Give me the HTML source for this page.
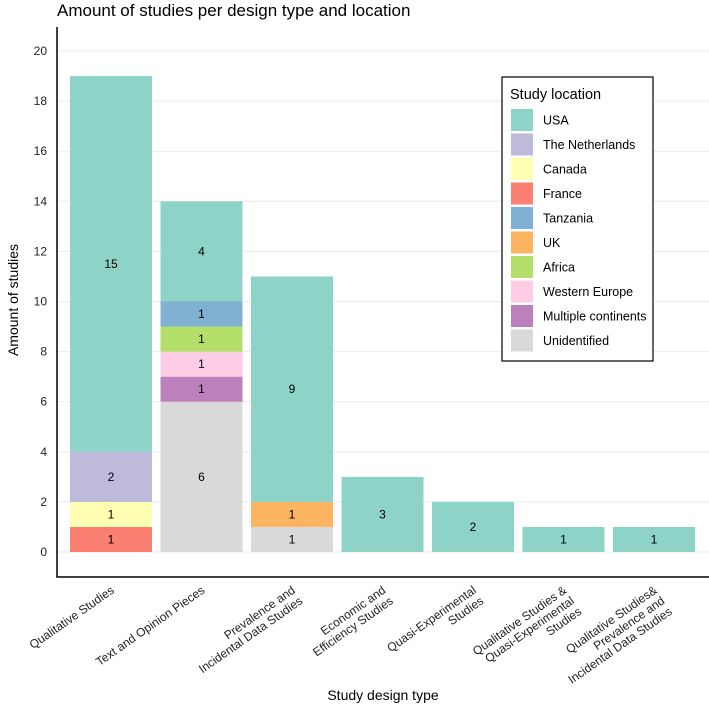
<!DOCTYPE html>
<html><head><meta charset="utf-8"><style>
body{margin:0;background:#fff;font-family:"Liberation Sans",Arial,sans-serif}
svg text{font-family:"Liberation Sans",Arial,sans-serif}
</style></head><body>
<svg id="c" width="709" height="709">
<text x="57" y="16" font-size="17" fill="#000">Amount of studies per design type and location</text>
<g id="grid"></g><g id="bars"></g><g id="axes"></g><g id="legend"></g>
<text x="383" y="700" font-size="14" text-anchor="middle">Study design type</text>
<text transform="translate(18,300) rotate(-90)" font-size="14" text-anchor="middle">Amount of studies</text>
</svg>
<script>
const categories=[["Qualitative Studies"],["Text and Opinion Pieces"],["Prevalence and","Incidental Data Studies"],["Economic and","Efficiency Studies"],["Quasi-Experimental","Studies"],["Qualitative Studies &","Quasi-Experimental","Studies"],["Qualitative Studies&","Prevalence and","Incidental Data Studies"]];
const locations=["USA","The Netherlands","Canada","France","Tanzania","UK","Africa","Western Europe","Multiple continents","Unidentified"];
const colors=["#8DD3C7","#BEBADA","#FFFFB3","#FB8072","#80B1D3","#FDB462","#B3DE69","#FCCDE5","#BC80BD","#D9D9D9"];
const USA=[15,4,9,3,2,1,1];
const Netherlands=[2,0,0,0,0,0,0];
const Canada=[1,0,0,0,0,0,0];
const France=[1,0,0,0,0,0,0];
const Tanzania=[0,1,0,0,0,0,0];
const UK=[0,0,1,0,0,0,0];
const Africa=[0,1,0,0,0,0,0];
const WesternEurope=[0,1,0,0,0,0,0];
const Multiple=[0,1,0,0,0,0,0];
const Unidentified=[0,6,1,0,0,0,0];
const yTicks=[0,2,4,6,8,10,12,14,16,18,20];
const series=[USA,Netherlands,Canada,France,Tanzania,UK,Africa,WesternEurope,Multiple,Unidentified];
const NS="http://www.w3.org/2000/svg";
function mk(t,a,p){const e=document.createElementNS(NS,t);for(const k in a)e.setAttribute(k,a[k]);p.appendChild(e);return e;}
const y=v=>552-v*25.05;
const x0=70,step=90.5,bw=82;
const xc=i=>x0+bw/2+i*step;
const grid=document.getElementById('grid'),bars=document.getElementById('bars'),axes=document.getElementById('axes'),leg=document.getElementById('legend');
yTicks.forEach(t=>{
 const l=mk('line',{x1:57,x2:709,y1:y(t),y2:y(t),stroke:'#ebebeb','stroke-width':1},grid);
 
 
 const tx=mk('text',{x:47,y:y(t)+4,'font-size':12,'text-anchor':'end',fill:'#222'},axes);tx.textContent=t;
 
 
});
categories.forEach((c,i)=>{
 let base=0;
 for(let s=series.length-1;s>=0;s--){
  const v=series[s][i];if(!v)continue;
  const r=mk('rect',{x:xc(i)-bw/2,y:y(base+v),width:bw,height:y(base)-y(base+v),fill:colors[s]},bars);
  
  
  const t=mk('text',{x:xc(i),y:(y(base)+y(base+v))/2+4,'font-size':12,'text-anchor':'middle'},bars);t.textContent=v;
  
  
  base+=v;
 }
 const g=mk('text',{transform:`translate(${xc(i)+4},${592}) rotate(-35)`,'font-size':12,'text-anchor':'end',fill:'#222'},axes);
 
 
 c.forEach((ln,k)=>{const ts=mk('tspan',{x:0,y:k*13},g);ts.textContent=ln;});
});
const ax=mk('path',{d:'M57,27V577H709',fill:'none',stroke:'#000','stroke-width':1.5},axes);


const box=mk('rect',{x:502,y:77,width:151,height:284,fill:'#fff',stroke:'#000','stroke-width':1.2},leg);


const lt=mk('text',{x:510,y:99,'font-size':14.5},leg);lt.textContent='Study location';


locations.forEach((n,k)=>{
 const cy=120+k*24.5;
 const sw=mk('rect',{x:511,y:cy-11,width:22,height:22,fill:colors[k]},leg);
 
 
 const t=mk('text',{x:543,y:cy+4.5,'font-size':12.5},leg);t.textContent=n;
 
 
});
</script>
</body></html>
